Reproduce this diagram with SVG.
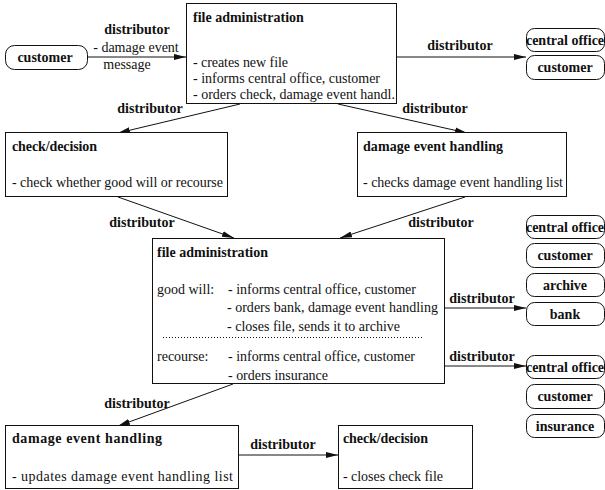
<svg xmlns="http://www.w3.org/2000/svg" width="605" height="490" viewBox="0 0 605 490">
<style>
text { font-family: 'Liberation Serif', 'DejaVu Serif', serif; font-size: 14px; fill: #111; }
.b { font-weight: bold; }
.c { text-anchor: middle; }
.box { fill: #fff; stroke: #111; stroke-width: 1; }
.rbox { fill: #fff; stroke: #111; stroke-width: 1; }
.edge { stroke: #111; stroke-width: 1; fill: none; marker-end: url(#arr); }
</style>
<defs>
<marker id="arr" viewBox="0 0 12 8" refX="12" refY="4" markerWidth="12" markerHeight="8" markerUnits="userSpaceOnUse" orient="auto">
<path d="M0,1 L12,4 L0,7 Z" fill="#111"/>
</marker>
</defs>
<rect width="605" height="490" fill="#fff"/>

<g id="connectors">
<line class="edge" x1="88" y1="57" x2="186" y2="57"/>
<line class="edge" x1="397" y1="57" x2="526" y2="57"/>
<line class="edge" x1="240" y1="104" x2="118" y2="133"/>
<line class="edge" x1="338" y1="104" x2="467" y2="133"/>
<line class="edge" x1="118" y1="197" x2="234" y2="238"/>
<line class="edge" x1="465" y1="197" x2="340" y2="238"/>
<line class="edge" x1="445" y1="308" x2="526" y2="308"/>
<line class="edge" x1="445" y1="366" x2="526" y2="366"/>
<line class="edge" x1="233" y1="384" x2="118" y2="426"/>
<line class="edge" x1="239" y1="455" x2="338" y2="455"/>
<text class="b c" x="137" y="34">distributor</text>
<text class="c" x="136" y="52">- damage event</text>
<text class="c" x="127" y="69">message</text>
<text class="b c" x="460" y="50">distributor</text>
<text class="b c" x="150" y="113">distributor</text>
<text class="b c" x="435" y="113">distributor</text>
<text class="b c" x="142" y="227">distributor</text>
<text class="b c" x="441" y="227">distributor</text>
<text class="b c" x="482" y="303">distributor</text>
<text class="b c" x="482" y="361">distributor</text>
<text class="b c" x="137" y="408">distributor</text>
<text class="b c" x="283" y="449">distributor</text>
</g>

<g id="customer1">
<rect class="rbox" x="5.5" y="45.5" width="82" height="24" rx="9"/>
<text class="b c" x="45" y="62">customer</text>
</g>

<g id="fileadmin1">
<rect class="box" x="186.5" y="3.5" width="210" height="100"/>
<text class="b" x="193" y="22">file administration</text>
<text x="193" y="67" textLength="95">- creates new file</text>
<text x="193" y="83" textLength="187">- informs central office, customer</text>
<text x="193" y="99" textLength="202">- orders check, damage event handl.</text>
</g>

<g id="centraloffice1">
<rect class="rbox" x="526.5" y="28.5" width="78" height="23" rx="8"/>
<text class="b c" x="565" y="45">central office</text>
</g>
<g id="customer2">
<rect class="rbox" x="526.5" y="55.5" width="78" height="24" rx="8"/>
<text class="b c" x="565" y="72">customer</text>
</g>

<g id="check1">
<rect class="box" x="5.5" y="132.5" width="222" height="64"/>
<text class="b" x="12" y="151" textLength="85">check/decision</text>
<text x="12" y="187" textLength="211">- check whether good will or recourse</text>
</g>

<g id="damage1">
<rect class="box" x="357.5" y="132.5" width="209" height="64"/>
<text class="b" x="363" y="151" textLength="140">damage event handling</text>
<text x="363" y="187" textLength="200">- checks damage event handling list</text>
</g>

<g id="fileadmin2">
<rect class="box" x="152.5" y="238.5" width="292" height="145"/>
<text class="b" x="157" y="257" textLength="111">file administration</text>
<text x="157" y="294">good will:</text>
<text x="228" y="294" textLength="188">- informs central office, customer</text>
<text x="227" y="312" textLength="211">- orders bank, damage event handling</text>
<text x="227" y="331" textLength="173">- closes file, sends it to archive</text>
<line x1="163" y1="337.5" x2="424" y2="337.5" stroke="#111" stroke-width="1" stroke-dasharray="1,2"/>
<text x="157" y="361">recourse:</text>
<text x="228" y="361" textLength="187">- informs central office, customer</text>
<text x="228" y="380" textLength="100">- orders insurance</text>
</g>

<g id="centraloffice2">
<rect class="rbox" x="526.5" y="215.5" width="78" height="23" rx="8"/>
<text class="b c" x="565" y="232">central office</text>
</g>
<g id="customer3">
<rect class="rbox" x="526.5" y="243.5" width="78" height="24" rx="8"/>
<text class="b c" x="565" y="260">customer</text>
</g>
<g id="archive">
<rect class="rbox" x="526.5" y="273.5" width="78" height="23" rx="8"/>
<text class="b c" x="565" y="290">archive</text>
</g>
<g id="bank">
<rect class="rbox" x="526.5" y="302.5" width="78" height="23" rx="8"/>
<text class="b c" x="565" y="319">bank</text>
</g>

<g id="centraloffice3">
<rect class="rbox" x="526.5" y="355.5" width="78" height="23" rx="8"/>
<text class="b c" x="565" y="372">central office</text>
</g>
<g id="customer4">
<rect class="rbox" x="526.5" y="384.5" width="78" height="24" rx="8"/>
<text class="b c" x="565" y="401">customer</text>
</g>
<g id="insurance">
<rect class="rbox" x="526.5" y="414.5" width="78" height="23" rx="8"/>
<text class="b c" x="565" y="431">insurance</text>
</g>

<g id="damage2">
<rect class="box" x="5.5" y="425.5" width="233" height="63"/>
<text class="b" x="12" y="443" textLength="150">damage event handling</text>
<text x="12" y="481" textLength="221">- updates damage event handling list</text>
</g>

<g id="check2">
<rect class="box" x="338.5" y="425.5" width="134" height="63"/>
<text class="b" x="343" y="443" textLength="85">check/decision</text>
<text x="343" y="481" textLength="100">- closes check file</text>
</g>
</svg>
